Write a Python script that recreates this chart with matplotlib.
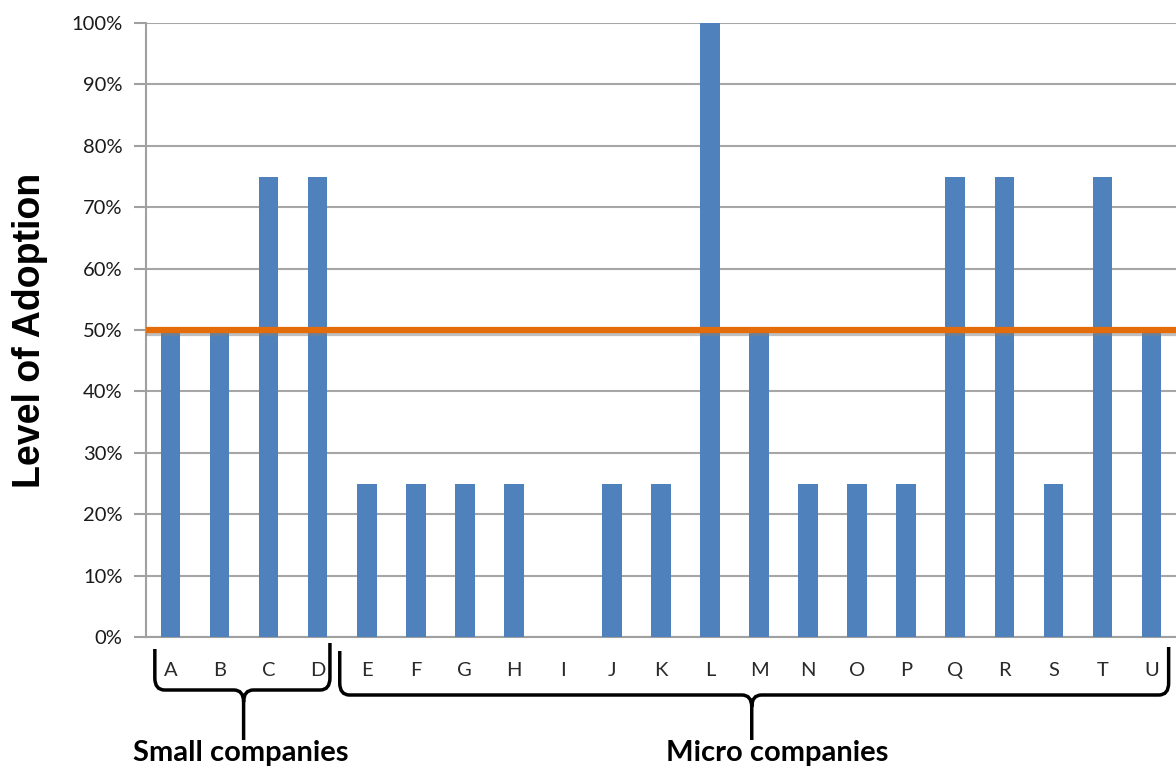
import numpy as np
import matplotlib.pyplot as plt
import matplotlib.transforms as mtransforms
import matplotlib.patheffects as pe
from matplotlib.path import Path
from matplotlib.patches import PathPatch

companies = list("ABCDEFGHIJKLMNOPQRSTU")
adoption = [50, 50, 75, 75, 25, 25, 25, 25, 0, 25, 25, 100, 50, 25, 25, 25, 75, 75, 25, 75, 50]
threshold = 50
groups = ["Small companies", "Micro companies"]

fig = plt.figure(figsize=(11.76, 7.71), dpi=100)
ax = fig.add_axes([146/1176, 1 - 637/771, 1 - 146/1176, (637 - 23)/771])

x = np.arange(len(companies))
vals = np.array(adoption) / 100
ax.bar(x, vals, width=0.4, color='#4F81BD', zorder=3)
ax.axhline(threshold / 100, color='#E46C0A', lw=4.5, zorder=4,
           path_effects=[pe.SimpleLineShadow(offset=(0, -2.5), shadow_color='gray', alpha=0.5), pe.Normal()])

ax.set_xlim(-0.5, len(companies) - 0.5)
ax.set_ylim(0, 1)
ax.set_yticks(np.arange(0, 1.01, 0.1))
ax.set_yticklabels([f'{int(round(t*100))}%' for t in np.arange(0, 1.01, 0.1)],
                   fontsize=14.5, family='Lato', color='#1a1a1a')
ax.set_xticks(x)
ax.set_xticklabels(companies, fontsize=14.5, family='Lato', color='#2a2a2a')
ax.tick_params(axis='x', length=0, pad=18)
ax.tick_params(axis='y', length=9, color='#A0A0A0', width=1.5, pad=8)
ax.grid(axis='y', color='#A6A6A6', lw=1.5, zorder=0)
for s in ['top', 'right']:
    ax.spines[s].set_visible(False)
ax.spines['left'].set_color('#A0A0A0')
ax.spines['left'].set_linewidth(1.5)
ax.spines['bottom'].set_color('#A0A0A0')
ax.spines['bottom'].set_linewidth(1.5)

fig.text(30/1176, 1 - 330/771, 'Level of Adoption', rotation=90, ha='center', va='center',
         fontsize=27, fontweight='bold', family='Liberation Sans')

# braces below the axis: x in data units, y in axes units
trans = mtransforms.blended_transform_factory(ax.transData, ax.transAxes)
px = 1 / 614


def brace(x0, x1, xm, ytop0, ytop1, ybar, ytip):
    r = 0.2
    ry = 12 * px
    verts = [(x0, ytop0), (x0, ybar + ry), (x0, ybar), (x0 + r, ybar),
             (xm - r, ybar), (xm, ybar), (xm, ybar - ry), (xm, ytip),
             (xm, ybar - ry), (xm, ybar), (xm + r, ybar),
             (x1 - r, ybar), (x1, ybar), (x1, ybar + ry), (x1, ytop1)]
    codes = [Path.MOVETO, Path.LINETO, Path.CURVE3, Path.CURVE3,
             Path.LINETO, Path.CURVE3, Path.CURVE3, Path.LINETO,
             Path.MOVETO, Path.CURVE3, Path.CURVE3,
             Path.LINETO, Path.CURVE3, Path.CURVE3, Path.LINETO]
    ax.add_patch(PathPatch(Path(verts, codes), transform=trans, fill=False,
                           lw=2.5, color='black', clip_on=False))


brace(-0.32, 3.25, 1.49, -12*px, -6*px, -53*px, -103*px)
brace(3.45, 20.35, 11.85, -14*px, -10*px, -58*px, -103*px)

ax.text(1.43, -116*px, groups[0], transform=trans, ha='center', va='center',
        fontsize=21, fontweight='bold', family='Lato')
ax.text(12.36, -116*px, groups[1], transform=trans, ha='center', va='center',
        fontsize=21, fontweight='bold', family='Lato')

plt.savefig('out.png', dpi=100)
